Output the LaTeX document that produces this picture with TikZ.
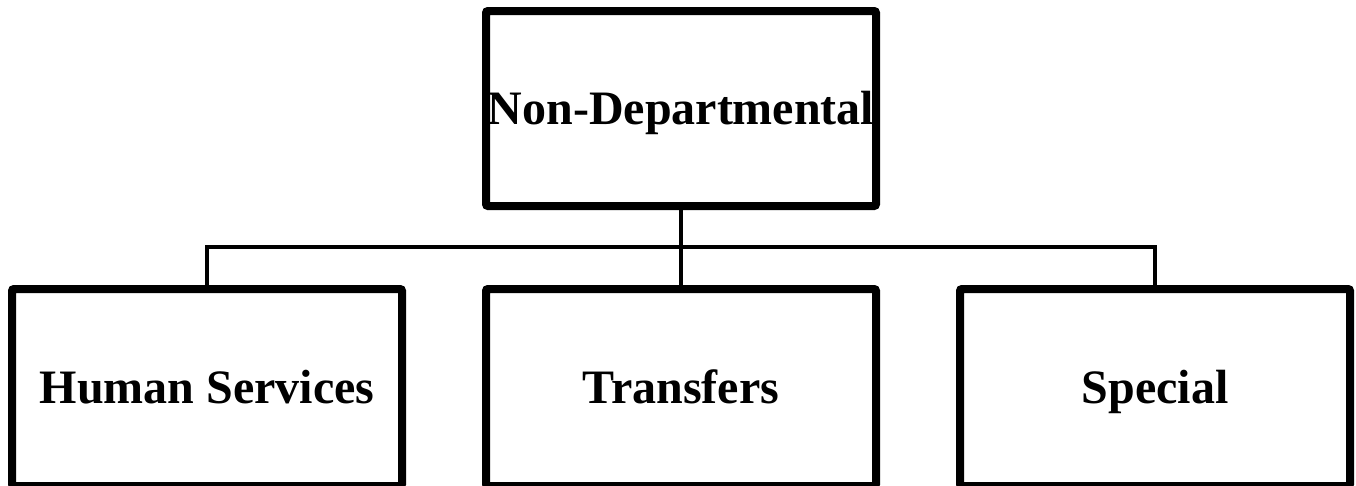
\documentclass[tikz,border=0pt]{standalone}
\usepackage{fontspec}
\setmainfont{Liberation Serif}
\usetikzlibrary{shadows}
\begin{document}
\begin{tikzpicture}[x=1pt,y=-1pt,
  orgbox/.style={draw=black, line width=8pt, fill=white, rounded corners=2pt,
    minimum width=390pt, minimum height=195pt, inner sep=0pt, outer sep=0pt,
    text height=31.5pt, text depth=0pt,
    font=\fontsize{48}{50}\selectfont\bfseries,
    drop shadow={shadow xshift=1.5pt, shadow yshift=-2.5pt, opacity=0.2, fill=black}},
  link/.style={draw=black, line width=4pt}]
\useasboundingbox (0,0) rectangle (1356,485);
\fill[white] (0,0) rectangle (1356,485);
\node[orgbox] (top) at (681,108.5) {Non-Departmental};
\node[orgbox, minimum height=197pt] (hs) at (207,387.5) {Human Services};
\node[orgbox, minimum height=197pt] (tr) at (681,387.5) {Transfers};
\node[orgbox, minimum height=197pt] (sp) at (1155,387.5) {Special};
\coordinate (bus) at (681,247);
\draw[link] (top.south) -- (tr.north);
\draw[link] (hs.north) |- (bus) -| (sp.north);
\end{tikzpicture}
\end{document}
